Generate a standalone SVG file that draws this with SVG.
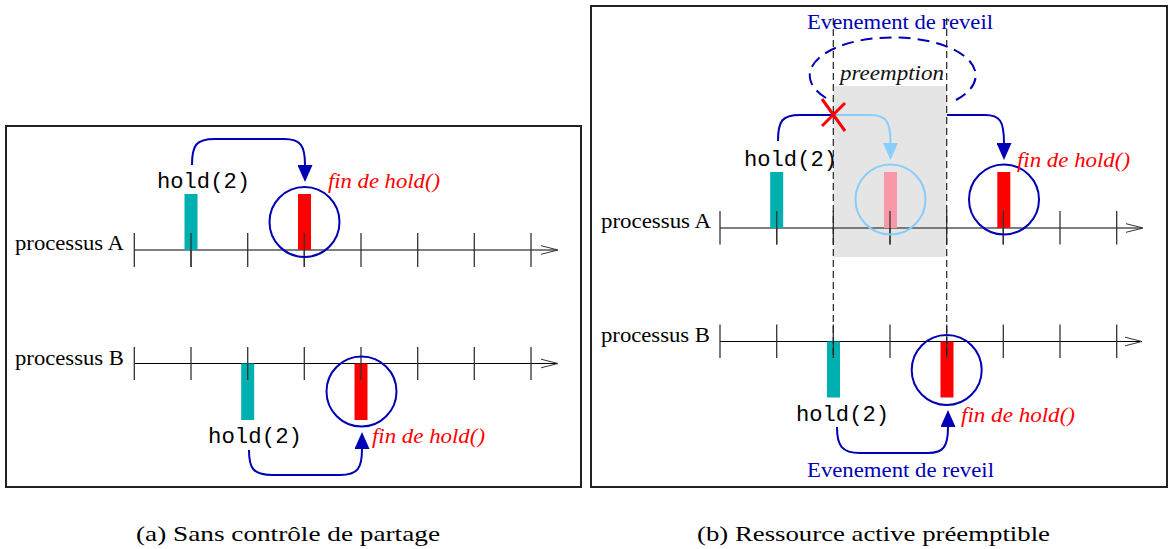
<svg xmlns="http://www.w3.org/2000/svg" width="1173" height="549" viewBox="0 0 1173 549">
<style>
.frame{fill:none;stroke:#222;stroke-width:2}
.axisA{stroke:#555;stroke-width:1.3;fill:none}
.axisB{stroke:#000;stroke-width:1;fill:none}
.tick{stroke:#333;stroke-width:1.3}
.head{fill:none;stroke:#333;stroke-width:1}
.lbl{font-family:'Liberation Serif',Tinos,'Times New Roman',Times,serif;font-size:22px;fill:#000}
.mono{font-family:'Liberation Mono',Cousine,'Courier New',Courier,monospace;font-size:22px;fill:#000}
.fin{font-family:'Liberation Serif',Tinos,'Times New Roman',Times,serif;font-size:22px;font-style:italic;fill:#ff0000}
.pre{font-family:'Liberation Serif',Tinos,'Times New Roman',Times,serif;font-size:22px;font-style:italic;fill:#111}
.ev{font-family:'Liberation Serif',Tinos,'Times New Roman',Times,serif;font-size:22px;fill:#0000b4}
.cap{font-family:'Liberation Serif',Tinos,'Times New Roman',Times,serif;font-size:21px;fill:#000}
.teal{fill:#00b0b0}
.red{fill:#ff0000}
.pink{fill:#f898a8}
.circ{fill:none;stroke:#0000b4;stroke-width:2}
.circL{fill:none;stroke:#87cefa;stroke-width:2}
.conn{fill:none;stroke:#0000b4;stroke-width:2}
.connL{fill:none;stroke:#87cefa;stroke-width:2}
.dash{stroke:#222;stroke-width:1.2;stroke-dasharray:7 4}
</style>
<defs>
<marker id="arr" viewBox="0 0 17 15" refX="0" refY="7.5" markerWidth="17" markerHeight="15" markerUnits="userSpaceOnUse" orient="auto"><path d="M0,0 L17,7.5 L0,15 z" fill="#0000b4"/></marker>
<marker id="arrL" viewBox="0 0 17 15" refX="0" refY="7.5" markerWidth="17" markerHeight="15" markerUnits="userSpaceOnUse" orient="auto"><path d="M0,0 L17,7.5 L0,15 z" fill="#87cefa"/></marker>
</defs>
<rect width="1173" height="549" fill="#fff"/>

<!-- Panel (a) -->
<g id="panel-a">
<rect class="frame" x="6" y="126" width="575" height="361"/>
<g id="a-axisA">
<text class="lbl" x="15" y="250" textLength="109" lengthAdjust="spacingAndGlyphs">processus A</text>
<line class="axisA" x1="134" y1="250" x2="557" y2="250"/>
<path class="head" d="M541,245.7 L558,250 L541,254.3"/>
<g class="tick">
<line x1="134.3" y1="233" x2="134.3" y2="267"/><line x1="191" y1="233" x2="191" y2="267"/><line x1="247.7" y1="233" x2="247.7" y2="267"/><line x1="304.3" y1="233" x2="304.3" y2="267"/><line x1="361" y1="233" x2="361" y2="267"/><line x1="417.7" y1="233" x2="417.7" y2="267"/><line x1="474.3" y1="233" x2="474.3" y2="267"/><line x1="531" y1="233" x2="531" y2="267"/>
</g>
</g>
<g id="a-holdA">
<rect class="teal" x="184.5" y="194" width="13" height="56"/>
<line class="tick" x1="191" y1="233" x2="191" y2="267"/>
<text class="mono" x="157" y="188" textLength="93" lengthAdjust="spacingAndGlyphs">hold(2)</text>
</g>
<g id="a-finA">
<rect class="red" x="298" y="194" width="13" height="56"/>
<line class="tick" x1="304.3" y1="233" x2="304.3" y2="267"/>
<circle class="circ" cx="304.5" cy="222" r="35"/>
<text class="fin" x="328" y="188" textLength="112" lengthAdjust="spacingAndGlyphs">fin de hold()</text>
</g>
<g id="a-axisB">
<text class="lbl" x="15" y="365" textLength="109" lengthAdjust="spacingAndGlyphs">processus B</text>
<line class="axisB" x1="134" y1="363.5" x2="557" y2="363.5"/>
<path class="head" d="M541,359.2 L558,363.5 L541,367.8" stroke="#777"/>
<g class="tick">
<line x1="134.3" y1="347" x2="134.3" y2="380"/><line x1="191" y1="347" x2="191" y2="380"/><line x1="247.7" y1="347" x2="247.7" y2="380"/><line x1="304.3" y1="347" x2="304.3" y2="380"/><line x1="361" y1="347" x2="361" y2="380"/><line x1="417.7" y1="347" x2="417.7" y2="380"/><line x1="474.3" y1="347" x2="474.3" y2="380"/><line x1="531" y1="347" x2="531" y2="380"/>
</g>
</g>
<g id="a-holdB">
<rect class="teal" x="241.2" y="363.5" width="13" height="56.5"/>
<line class="tick" x1="247.7" y1="363.5" x2="247.7" y2="380"/>
<text class="mono" x="208" y="443" textLength="94" lengthAdjust="spacingAndGlyphs">hold(2)</text>
</g>
<g id="a-finB">
<rect class="red" x="354.5" y="363.5" width="13" height="56.5"/>
<line class="tick" x1="361" y1="363.5" x2="361" y2="380"/>
<circle class="circ" cx="361.5" cy="391.5" r="35"/>
<text class="fin" x="372" y="443" textLength="113" lengthAdjust="spacingAndGlyphs">fin de hold()</text>
</g>
</g>

<!-- Panel (b) -->
<g id="panel-b">
<rect class="frame" x="591" y="6" width="576" height="481"/>
<g id="b-preemption">
<rect x="833.3" y="86" width="113.4" height="171" fill="#e5e5e5"/>
<text class="pre" x="840" y="80" textLength="104" lengthAdjust="spacingAndGlyphs">preemption</text>
</g>
<g id="b-axisA">
<text class="lbl" x="601" y="228" textLength="110" lengthAdjust="spacingAndGlyphs">processus A</text>
<line class="axisA" x1="720" y1="228" x2="1142" y2="228"/>
<path class="head" d="M1126,223.7 L1143,228 L1126,232.3"/>
<g class="tick">
<line x1="720" y1="211" x2="720" y2="244.5"/><line x1="776.7" y1="211" x2="776.7" y2="244.5"/><line x1="833.3" y1="211" x2="833.3" y2="244.5"/><line x1="890" y1="211" x2="890" y2="244.5"/><line x1="946.7" y1="211" x2="946.7" y2="244.5"/><line x1="1003.3" y1="211" x2="1003.3" y2="244.5"/><line x1="1060" y1="211" x2="1060" y2="244.5"/><line x1="1116.7" y1="211" x2="1116.7" y2="244.5"/>
</g>
</g>
<g id="b-holdA">
<rect class="teal" x="770.2" y="172" width="13" height="56"/>
<line class="tick" x1="776.7" y1="211" x2="776.7" y2="244.5"/>
<text class="mono" x="744" y="166" textLength="93" lengthAdjust="spacingAndGlyphs">hold(2)</text>
</g>
<g id="b-preemptedA">
<rect class="pink" x="884" y="172" width="13" height="56"/>
<line class="tick" x1="890" y1="211" x2="890" y2="244.5"/>
<circle class="circL" cx="890.5" cy="199.5" r="35"/>
</g>
<g id="b-finA">
<rect class="red" x="997.3" y="172" width="13" height="56"/>
<line class="tick" x1="1003.3" y1="211" x2="1003.3" y2="244.5"/>
<circle class="circ" cx="1004" cy="199.5" r="35"/>
<text class="fin" x="1017" y="166.5" textLength="113" lengthAdjust="spacingAndGlyphs">fin de hold()</text>
</g>
<g id="b-axisB">
<text class="lbl" x="601" y="342" textLength="109" lengthAdjust="spacingAndGlyphs">processus B</text>
<line class="axisB" x1="720" y1="341.5" x2="1140" y2="341.5"/>
<path class="head" d="M1125,337.2 L1142,341.5 L1125,345.8" stroke="#777"/>
<g class="tick">
<line x1="720" y1="324.5" x2="720" y2="358"/><line x1="776.7" y1="324.5" x2="776.7" y2="358"/><line x1="833.3" y1="324.5" x2="833.3" y2="358"/><line x1="890" y1="324.5" x2="890" y2="358"/><line x1="946.7" y1="324.5" x2="946.7" y2="358"/><line x1="1003.3" y1="324.5" x2="1003.3" y2="358"/><line x1="1060" y1="324.5" x2="1060" y2="358"/><line x1="1116.7" y1="324.5" x2="1116.7" y2="358"/>
</g>
</g>
<g id="b-holdB">
<rect class="teal" x="827" y="341.5" width="13" height="56"/>
<line class="tick" x1="833.3" y1="341.5" x2="833.3" y2="358"/>
<text class="mono" x="796" y="421" textLength="93" lengthAdjust="spacingAndGlyphs">hold(2)</text>
</g>
<g id="b-finB">
<rect class="red" x="940.5" y="341.5" width="13" height="56"/>
<line class="tick" x1="946.7" y1="341.5" x2="946.7" y2="358"/>
<circle class="circ" cx="946.7" cy="370" r="35"/>
<text class="fin" x="961" y="421.5" textLength="114" lengthAdjust="spacingAndGlyphs">fin de hold()</text>
</g>
<g id="b-labels">
<text class="ev" x="807" y="29" textLength="186" lengthAdjust="spacingAndGlyphs">Evenement de reveil</text>
<text class="ev" x="807" y="476.5" textLength="187" lengthAdjust="spacingAndGlyphs">Evenement de reveil</text>
</g>
</g>

<!-- connectors -->
<g id="connectors">
<line class="dash" x1="833.3" y1="18" x2="833.3" y2="358"/>
<line class="dash" x1="946.7" y1="18" x2="946.7" y2="358" stroke="#555"/>
<path class="conn" d="M192,165 C192,145 196,139 215,139 L284,139 C301,139 305,146 305,165" marker-end="url(#arr)"/>
<path class="conn" d="M249,450 C249,468 253,475 272,475 L340,475 C358,475 362,468 362,449" marker-end="url(#arr)"/>
<path class="conn" d="M778,141 C778,121 782,115 800,115 L833,115"/>
<path class="connL" d="M833,115 L870,115 C886,115 890.5,121 890.5,143" marker-end="url(#arrL)"/>
<path class="conn" d="M947,115 L985,115 C1000,115 1004,121 1004,143" marker-end="url(#arr)"/>
<path class="conn" d="M837,427 C837,446 842,453 860,453 L928,453 C944,453 948,446 948,427" marker-end="url(#arr)"/>
<path class="conn" d="M826,98 A83 38 0 1 1 956,100" stroke-dasharray="12 7"/>
<g stroke="#ff0000" stroke-width="3">
<line x1="822" y1="99" x2="845" y2="131"/>
<line x1="822" y1="126" x2="845" y2="103"/>
</g>
</g>

<!-- captions -->
<text class="cap" x="136" y="541" textLength="304" lengthAdjust="spacingAndGlyphs">(a) Sans contrôle de partage</text>
<text class="cap" x="697" y="541" textLength="353" lengthAdjust="spacingAndGlyphs">(b) Ressource active préemptible</text>
</svg>
